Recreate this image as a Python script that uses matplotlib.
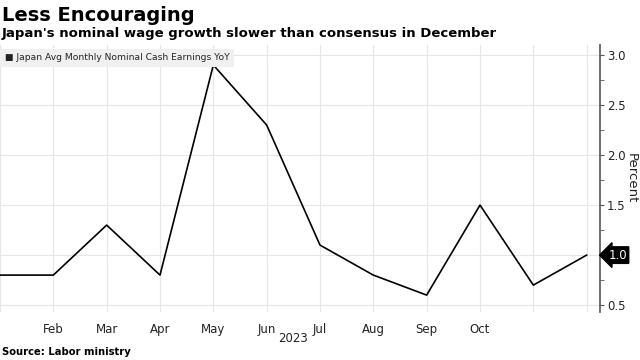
import matplotlib
matplotlib.use("Agg")
import matplotlib.pyplot as plt
from matplotlib.ticker import MultipleLocator

months = ["Jan", "Feb", "Mar", "Apr", "May", "Jun", "Jul", "Aug", "Sep", "Oct", "Nov", "Dec"]
earnings = [0.8, 0.8, 1.3, 0.8, 2.9, 2.3, 1.1, 0.8, 0.6, 1.5, 0.7, 1.0]
tick_labels = ["", "Feb", "Mar", "Apr", "May", "Jun", "Jul", "Aug", "Sep", "Oct", "", ""]
y_ticks = [0.5, 1.0, 1.5, 2.0, 2.5, 3.0]

fig = plt.figure(figsize=(6.4, 3.6), dpi=100)
ax = fig.add_axes([0.0, 0.133, 0.9375, 0.742])

x = list(range(len(months)))
ax.plot(x, earnings, color="black", lw=1.2)

ax.set_xlim(0, 11.25)
ax.set_ylim(0.43, 3.1)
ax.set_xticks(x)
ax.set_xticklabels(tick_labels, fontsize=8.5, color="#222222")
ax.set_yticks(y_ticks)
# last value gets a boxed label instead of a plain tick label
ax.set_yticklabels(["" if v == earnings[-1] else "%.1f" % v for v in y_ticks], fontsize=8.5, color="#222222")
ax.yaxis.set_minor_locator(MultipleLocator(0.25))
ax.yaxis.tick_right()
ax.tick_params(axis="y", which="both", direction="out", length=3, color="#555555", pad=2)
ax.tick_params(axis="x", length=0, pad=8)
ax.grid(True, color="#e6e6e6", lw=0.8)
ax.set_axisbelow(True)
for s in ["top", "left", "bottom"]:
    ax.spines[s].set_visible(False)
ax.spines["right"].set_color("#555555")
ax.spines["right"].set_linewidth(1.2)

fig.text(631 / 640, 1 - 178 / 360, "Percent", rotation=270, ha="center", va="center", fontsize=9.5, color="#222222")

# last value marker on the axis
ax.annotate("%.1f" % earnings[-1], xy=(1.0, earnings[-1]), xycoords=("axes fraction", "data"),
            xytext=(6, 0), textcoords="offset points", ha="left", va="center",
            fontsize=8.5, color="white",
            bbox=dict(boxstyle="larrow,pad=0.15", fc="black", ec="black"))

# legend
ax.text(0.008, 0.952, "\u25a0 Japan Avg Monthly Nominal Cash Earnings YoY", transform=ax.transAxes,
        fontsize=6.6, color="#222222", va="center", ha="left",
        bbox=dict(boxstyle="square,pad=0.5", fc="#f0f0f0", ec="none"))

fig.text(293 / 640, 1 - 338 / 360, "2023", ha="center", va="center", fontsize=8.5, color="#222222")

fig.text(0.003, 0.957, "Less Encouraging", fontsize=14, fontweight="bold", ha="left", va="center")
fig.text(0.003, 0.908, "Japan's nominal wage growth slower than consensus in December",
         fontsize=9.5, fontweight="bold", ha="left", va="center")
fig.text(0.003, 0.022, "Source: Labor ministry", fontsize=7.2, fontweight="bold", ha="left", va="center")

fig.savefig("out.png", dpi=100)
